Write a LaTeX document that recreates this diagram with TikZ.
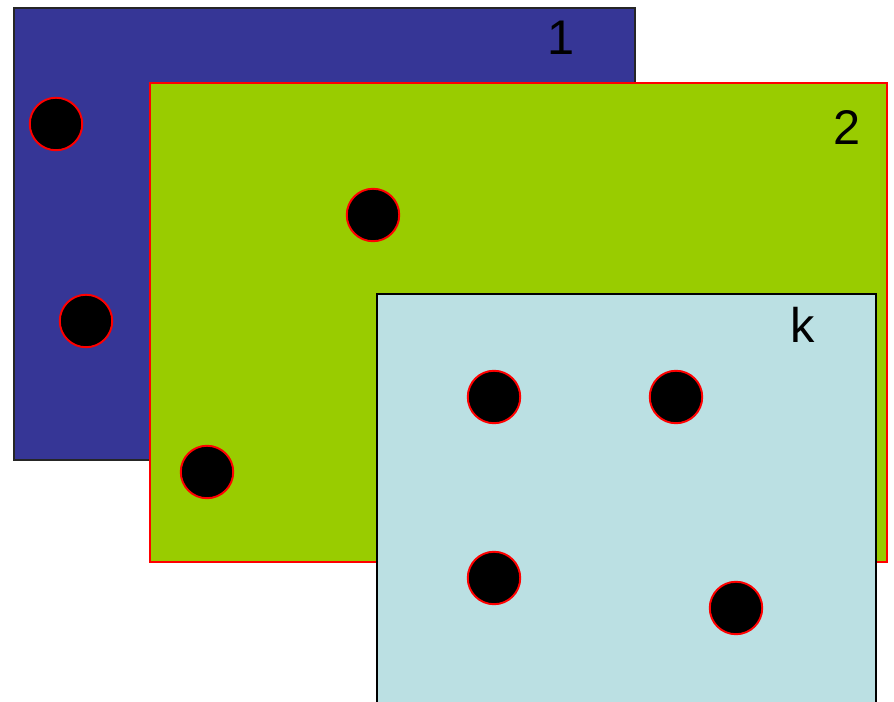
\documentclass[tikz,border=0pt]{standalone}
\usepackage{fontspec}
\setmainfont{Liberation Sans}
\usetikzlibrary{positioning}
\definecolor{setblue}{HTML}{363696}
\definecolor{setgreen}{HTML}{99CC00}
\definecolor{setcyan}{HTML}{BBE0E3}

\begin{document}
\begin{tikzpicture}[x=0.02cm, y=-0.02cm,
  every node/.style={font=\fontsize{27.7}{30}\selectfont},
  panel/.style={line width=1.1pt},
  dot/.style={circle, draw=red, fill=black, line width=1.1pt, minimum size=1.05cm, inner sep=0pt},
  tag/.style={inner sep=0pt}]
\useasboundingbox (0,0) rectangle (894,702);
\clip (0,0) rectangle (894,702);
% panel 1
\draw[panel, draw=black!85, fill=setblue] (14,8) rectangle (635,460);
\node[tag] (n1) at (561,38) {1};
\node[dot] (a1) at (56,124) {};
\node[dot] (a2) at (86,321) {};
% panel 2
\draw[panel, draw=red, fill=setgreen] (150,83) rectangle (887,562);
\node[tag] (n2) at (847,128) {2};
\node[dot] (b1) at (373,215) {};
\node[dot] (b2) at (207,472) {};
% panel k
\draw[panel, draw=black, fill=setcyan] (377,294) rectangle (876,710);
\node[tag] (nk) at (803,325) {k};
\node[dot] (c1) at (494,397) {};
\node[dot] (c2) at (676,397) {};
\node[dot] (c3) at (494,578) {};
\node[dot] (c4) at (736,608) {};
\end{tikzpicture}
\end{document}
